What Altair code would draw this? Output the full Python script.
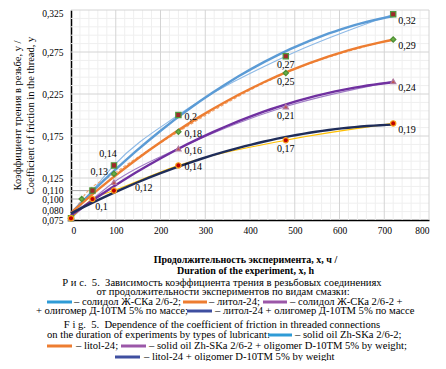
import altair as alt
import pandas as pd

# ---------------- data ----------------
hours_solid = [0, 48, 96, 240, 480, 720]
fr_solid = [0.077, 0.11, 0.14, 0.20, 0.27, 0.32]
hours_litol = [0, 24, 96, 240, 480, 720]
fr_litol = [0.077, 0.10, 0.13, 0.18, 0.25, 0.29]
hours_solid_olig = [0, 96, 240, 480, 720]
fr_solid_olig = [0.077, 0.12, 0.16, 0.21, 0.24]
hours_litol_olig = [0, 48, 96, 240, 480, 720]
fr_litol_olig = [0.077, 0.10, 0.11, 0.14, 0.17, 0.19]

x_tick_values = [0, 100, 200, 300, 400, 500, 600, 700, 800]
y_tick_values = [0.075, 0.080, 0.100, 0.110, 0.125, 0.175, 0.225, 0.275, 0.325]
x_major_grid = [100, 200, 300, 400, 500, 600, 700, 800]
y_major_grid = [0.125, 0.175, 0.225, 0.275, 0.325]
x_minor_grid = [v for v in range(20, 800, 20) if v % 100 != 0]
y_minor_grid = [round(0.075 + 0.01 * k, 3) for k in range(1, 25) if k % 5 != 0]

# labelled points: (hours, value, placement group)
lab_hours = [720, 720, 720, 720, 480, 480, 480, 480, 240, 240, 240, 240, 96, 96, 96, 48]
lab_fr = [0.32, 0.29, 0.24, 0.19, 0.27, 0.25, 0.21, 0.17, 0.20, 0.18, 0.16, 0.14, 0.14, 0.13, 0.12, 0.10]
lab_grp = ["rb", "rb", "rb", "rb", "b", "b", "b", "b", "r", "r", "r", "r", "al", "l", "rf", "br"]

leader_hours = [48, 24]
leader_fr = [0.110, 0.100]

series = [
    dict(h=hours_solid, v=fr_solid, thick="#5B9BD5", thin="#8DB9E6", dash=[],
         shape="square", fill="#A0282A", stroke="#4E9A3E"),
    dict(h=hours_litol, v=fr_litol, thick="#ED7D31", thin="#F2A46E", dash=[3, 2],
         shape="diamond", fill="#6AAE45", stroke="#4E8F35"),
    dict(h=hours_solid_olig, v=fr_solid_olig, thick="#7030A0", thin="#A07CC5", dash=[],
         shape="triangle-up", fill="#C0504D", stroke="#B07AA1"),
    dict(h=hours_litol_olig, v=fr_litol_olig, thick="#1F2D5A", thin="#FFC000", dash=[],
         shape="circle", fill="#C00000", stroke="#F7A11A"),
]

FONT = "Liberation Serif"
NB = "\u00a0"

xs = alt.Scale(domain=[0, 800], nice=False)
ys = alt.Scale(domain=[0.075, 0.325], nice=False, zero=False)

x_axis = alt.Axis(
    values=x_tick_values, grid=False, ticks=False, domainColor="black", domainWidth=1.5,
    labelFont=FONT, labelFontSize=9.5, labelColor="black", labelPadding=5,
    title=["Продолжительность эксперимента, x, ч /", "Duration of the experiment, x, h"],
    titleFont=FONT, titleFontSize=10, titleFontWeight="bold", titleColor="black",
    titleX=174, titleY=34, titleBaseline="top", titleAlign="center", titleLineHeight=11,
)
y_axis = alt.Axis(
    values=y_tick_values, grid=False, ticks=False, domainColor="black", domainWidth=1.5,
    labelFont=FONT, labelFontSize=9.5, labelColor="black", labelPadding=8,
    labelOverlap=False,
    labelExpr="replace(format(datum.value, '.3f'), '.', ',')",
    labelOffset={"expr": "abs(datum.value - 0.08) < 0.001 ? -5 : (datum.value > 0.32 ? 3 : 0)"},
    title=["Коэффициент трения в резьбе, y /", "Coefficient of friction in the thread, y"],
    titleFont=FONT, titleFontSize=10.5, titleFontWeight="normal", titleColor="black",
    titlePadding=6, titleLineHeight=13.5,
)

X = alt.X("hours:Q", scale=xs, axis=x_axis)
Y = alt.Y("fr:Q", scale=ys, axis=y_axis)

layers = []

# grid
layers.append(alt.Chart(pd.DataFrame({"hours": x_minor_grid})).mark_rule(color="#EFEFEF", strokeWidth=1)
              .encode(x=X))
layers.append(alt.Chart(pd.DataFrame({"fr": y_minor_grid})).mark_rule(color="#EFEFEF", strokeWidth=1)
              .encode(y=Y))
layers.append(alt.Chart(pd.DataFrame({"hours": x_major_grid})).mark_rule(color="#D4D4D4", strokeWidth=1)
              .encode(x=X))
layers.append(alt.Chart(pd.DataFrame({"fr": y_major_grid})).mark_rule(color="#D4D4D4", strokeWidth=1)
              .encode(y=Y))

# leader lines
lead_df = pd.DataFrame({"hours": [0] * len(leader_hours), "hours2": leader_hours, "fr": leader_fr})
layers.append(alt.Chart(lead_df).mark_rule(color="#A6A6A6", strokeWidth=1)
              .encode(x=X, x2="hours2:Q", y=Y))

# thin data lines
for s in series:
    df = pd.DataFrame({"hours": s["h"], "fr": s["v"]})
    kw = dict(color=s["thin"], strokeWidth=1.1, interpolate="monotone")
    if s["dash"]:
        kw["strokeDash"] = s["dash"]
    layers.append(alt.Chart(df).mark_line(**kw).encode(x=X, y=Y))

# thick trend lines (2nd order polynomial)
for s in series:
    df = pd.DataFrame({"hours": s["h"], "fr": s["v"]})
    layers.append(
        alt.Chart(df)
        .transform_regression("hours", "fr", method="poly", order=2, extent=[0, 720])
        .mark_line(color=s["thick"], strokeWidth=2.4)
        .encode(x=X, y=Y)
    )

# markers
for s in series:
    df = pd.DataFrame({"hours": s["h"], "fr": s["v"]})
    layers.append(
        alt.Chart(df)
        .mark_point(shape=s["shape"], filled=True, fill=s["fill"], stroke=s["stroke"],
                    strokeWidth=1.2, size=28, opacity=1)
        .encode(x=X, y=Y)
    )

# point labels
lab_df = pd.DataFrame({"hours": lab_hours, "fr": lab_fr, "grp": lab_grp})
placements = {
    "rb": dict(align="left", dx=5, dy=7),
    "b": dict(align="center", dx=0, dy=9),
    "r": dict(align="left", dx=6, dy=2),
    "al": dict(align="center", dx=-6, dy=-11),
    "l": dict(align="right", dx=-6, dy=-2),
    "rf": dict(align="left", dx=21, dy=6),
    "br": dict(align="center", dx=9, dy=8),
}
for g, p in placements.items():
    layers.append(
        alt.Chart(lab_df)
        .transform_filter(alt.datum.grp == g)
        .transform_calculate(txt="replace(format(datum.fr, '.2~f'), '.', ',')")
        .mark_text(font=FONT, fontSize=10, color="black", baseline="middle", **p)
        .encode(x=X, y=Y, text="txt:N")
    )

# ---------------- caption ----------------
one = pd.DataFrame({"a": [0]})
ox, oy = 71, 10  # plot origin on the page

caption_texts = [
    (f"Р и с.{NB} 5.{NB} Зависимость коэффициента трения в резьбовых соединениях", 222, 283, "center"),
    ("от продолжительности экспериментов по видам смазки:", 223, 292, "center"),
    ("– солидол Ж-СКа 2/6-2;", 74, 302, "left"),
    ("– литол-24;", 209, 302, "left"),
    ("– солидол Ж-СКа 2/6-2 +", 290, 302, "left"),
    ("+ олигомер Д-10ТМ 5% по массе;", 36, 311, "left"),
    ("– литол-24 + олигомер Д-10ТМ 5% по массе", 215, 311, "left"),
    (f"F i g.{NB} 5.{NB} Dependence of the coefficient of friction in threaded connections", 222, 325, "center"),
    ("on the duration of experiments by types of lubricant:", 47, 335, "left"),
    ("– solid oil Zh-SKa 2/6-2;", 295, 335, "left"),
    ("– litol-24;", 76, 346, "left"),
    ("– solid oil Zh-SKa 2/6-2 + oligomer D-10TM 5% by weight;", 149, 346, "left"),
    ("– litol-24 + oligomer D-10TM 5% by weight", 144, 357, "left"),
]
swatches = [
    (47, 72, 302, "#2E9BD6"),
    (183, 207, 302, "#ED7D31"),
    (263, 287, 302, "#9B57A8"),
    (187, 212, 311, "#3F4FA0"),
    (268, 292, 335, "#2E9BD6"),
    (47, 72, 346, "#ED7D31"),
    (121, 146, 346, "#9B57A8"),
    (115, 140, 357, "#3F4FA0"),
]
for t, x, y, al in caption_texts:
    layers.append(
        alt.Chart(one).mark_text(text=t, font=FONT, fontSize=10.6, color="black",
                                 align=al, baseline="middle")
        .encode(x=alt.value(x - ox), y=alt.value(y - oy))
    )
for x1, x2, y, c in swatches:
    layers.append(
        alt.Chart(one).mark_rule(color=c, strokeWidth=3)
        .encode(x=alt.value(x1 - ox), x2=alt.value(x2 - ox), y=alt.value(y - oy))
    )

chart = (
    alt.layer(*layers)
    .properties(width=358, height=210, autosize="none",
                padding={"left": 63, "top": 2, "right": 9, "bottom": 141})
    .configure_view(stroke=None)
)

chart.save("out.html", embed_options={"renderer": "svg", "actions": False})
